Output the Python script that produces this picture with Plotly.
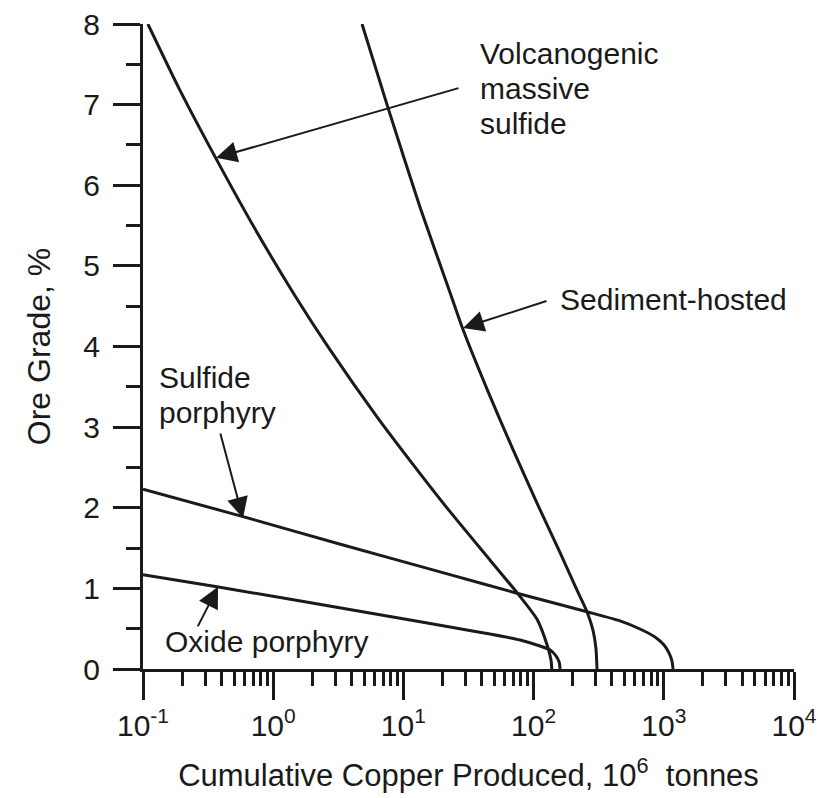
import math
import plotly.graph_objects as go

# ---- data ----
vms_x = [0.109, 0.192, 0.364, 0.724, 1.47, 2.64, 6.27, 11.6, 21.6, 46.2, 75.9, 106, 127, 136, 138]
vms_y = [8.0, 7.18, 6.33, 5.46, 4.63, 3.995, 3.127, 2.556, 1.998, 1.352, 0.931, 0.62, 0.298, 0.112, 0.0]

sed_x = [4.81, 7.62, 13.4, 22.8, 28.7, 44.7, 69.5, 106, 160, 215, 257, 286, 301, 307]
sed_y = [8.0, 6.96, 5.73, 4.67, 4.21, 3.44, 2.72, 2.06, 1.44, 0.98, 0.71, 0.48, 0.26, 0.0]

sulf_x = [0.1, 0.586, 3.44, 22.8, 74.5, 257, 461, 656, 855, 1004, 1096, 1156, 1178]
sulf_y = [2.23, 1.89, 1.538, 1.17, 0.94, 0.71, 0.596, 0.496, 0.397, 0.298, 0.199, 0.099, 0.0]

oxide_x = [0.1, 0.37, 9.42, 22.8, 46.2, 78.7, 112, 134, 149, 157, 160]
oxide_y = [1.17, 1.02, 0.63, 0.52, 0.434, 0.36, 0.285, 0.236, 0.161, 0.087, 0.0]

x_tickvals = [0.1, 1, 10, 100, 1000, 10000]
x_ticktext = ["10<sup>-1</sup>", "10<sup>0</sup>", "10<sup>1</sup>",
              "10<sup>2</sup>", "10<sup>3</sup>", "10<sup>4</sup>"]
y_tickvals = [0, 1, 2, 3, 4, 5, 6, 7, 8]

# label lines, anchor of first line (x, y) and arrow tip / tail (x, y) in data units
labels = [
    dict(lines=["Volcanogenic", "massive", "sulfide"], x=37.5, y=7.64,
         tip=(0.364, 6.34), tail=(27.2, 7.21)),
    dict(lines=["Sediment-hosted"], x=155, y=4.58,
         tip=(28.7, 4.23), tail=(129, 4.57)),
    dict(lines=["Sulfide", "porphyry"], x=0.129, y=3.61,
         tip=(0.586, 1.87), tail=(0.39, 2.94)),
    dict(lines=["Oxide porphyry"], x=0.143, y=0.335,
         tip=(0.377, 1.02), tail=(0.26, 0.51)),
]

INK = "#1a1a1a"
FONT = "Liberation Sans, Arial, sans-serif"
LINE_GAP = 35  # px between text lines

fig = go.Figure()
for xs, ys in [(vms_x, vms_y), (sed_x, sed_y), (sulf_x, sulf_y), (oxide_x, oxide_y)]:
    fig.add_trace(go.Scatter(x=xs, y=ys, mode="lines",
                             line=dict(color=INK, width=3, shape="spline", smoothing=0.6),
                             showlegend=False, hoverinfo="skip"))

annotations = []
for lab in labels:
    for i, line in enumerate(lab["lines"]):
        annotations.append(dict(
            text=line, x=math.log10(lab["x"]), y=lab["y"], yshift=-LINE_GAP * i,
            xref="x", yref="y", xanchor="left", yanchor="middle", align="left",
            showarrow=False, font=dict(family=FONT, size=30, color=INK)))
    annotations.append(dict(
        text="", x=math.log10(lab["tip"][0]), y=lab["tip"][1],
        ax=math.log10(lab["tail"][0]), ay=lab["tail"][1],
        xref="x", yref="y", axref="x", ayref="y",
        showarrow=True, arrowhead=2, arrowsize=2.1, arrowwidth=2,
        arrowcolor=INK, standoff=0))

fig.update_layout(
    width=818, height=798,
    margin=dict(l=143, r=24, t=24, b=129),
    paper_bgcolor="white", plot_bgcolor="white",
    font=dict(family=FONT, color=INK),
    annotations=annotations,
    xaxis=dict(
        type="log", range=[-1, 4], automargin=False,
        tickvals=x_tickvals, ticktext=x_ticktext,
        ticks="outside", ticklen=28, tickwidth=3, tickcolor=INK,
        showline=True, linewidth=3, linecolor=INK,
        showgrid=False, zeroline=False,
        tickfont=dict(size=30, color=INK),
        minor=dict(ticks="outside", ticklen=14, tickwidth=3, tickcolor=INK,
                   dtick="D1", showgrid=False),
        title=dict(text="Cumulative Copper Produced, 10<sup>6</sup>  tonnes",
                   font=dict(size=31, color=INK), standoff=24),
    ),
    yaxis=dict(
        range=[0, 8], tickvals=y_tickvals, automargin=False,
        ticks="outside", ticklen=27, tickwidth=3, tickcolor=INK,
        showline=True, linewidth=3, linecolor=INK,
        showgrid=False, zeroline=False,
        tickfont=dict(size=30, color=INK),
        ticklabelstandoff=7,
        minor=dict(ticks="outside", ticklen=14, tickwidth=3, tickcolor=INK,
                   dtick=0.5, showgrid=False),
        title=dict(text="Ore Grade, %", font=dict(size=32, color=INK), standoff=24),
    ),
)

fig.write_html("out.html")
